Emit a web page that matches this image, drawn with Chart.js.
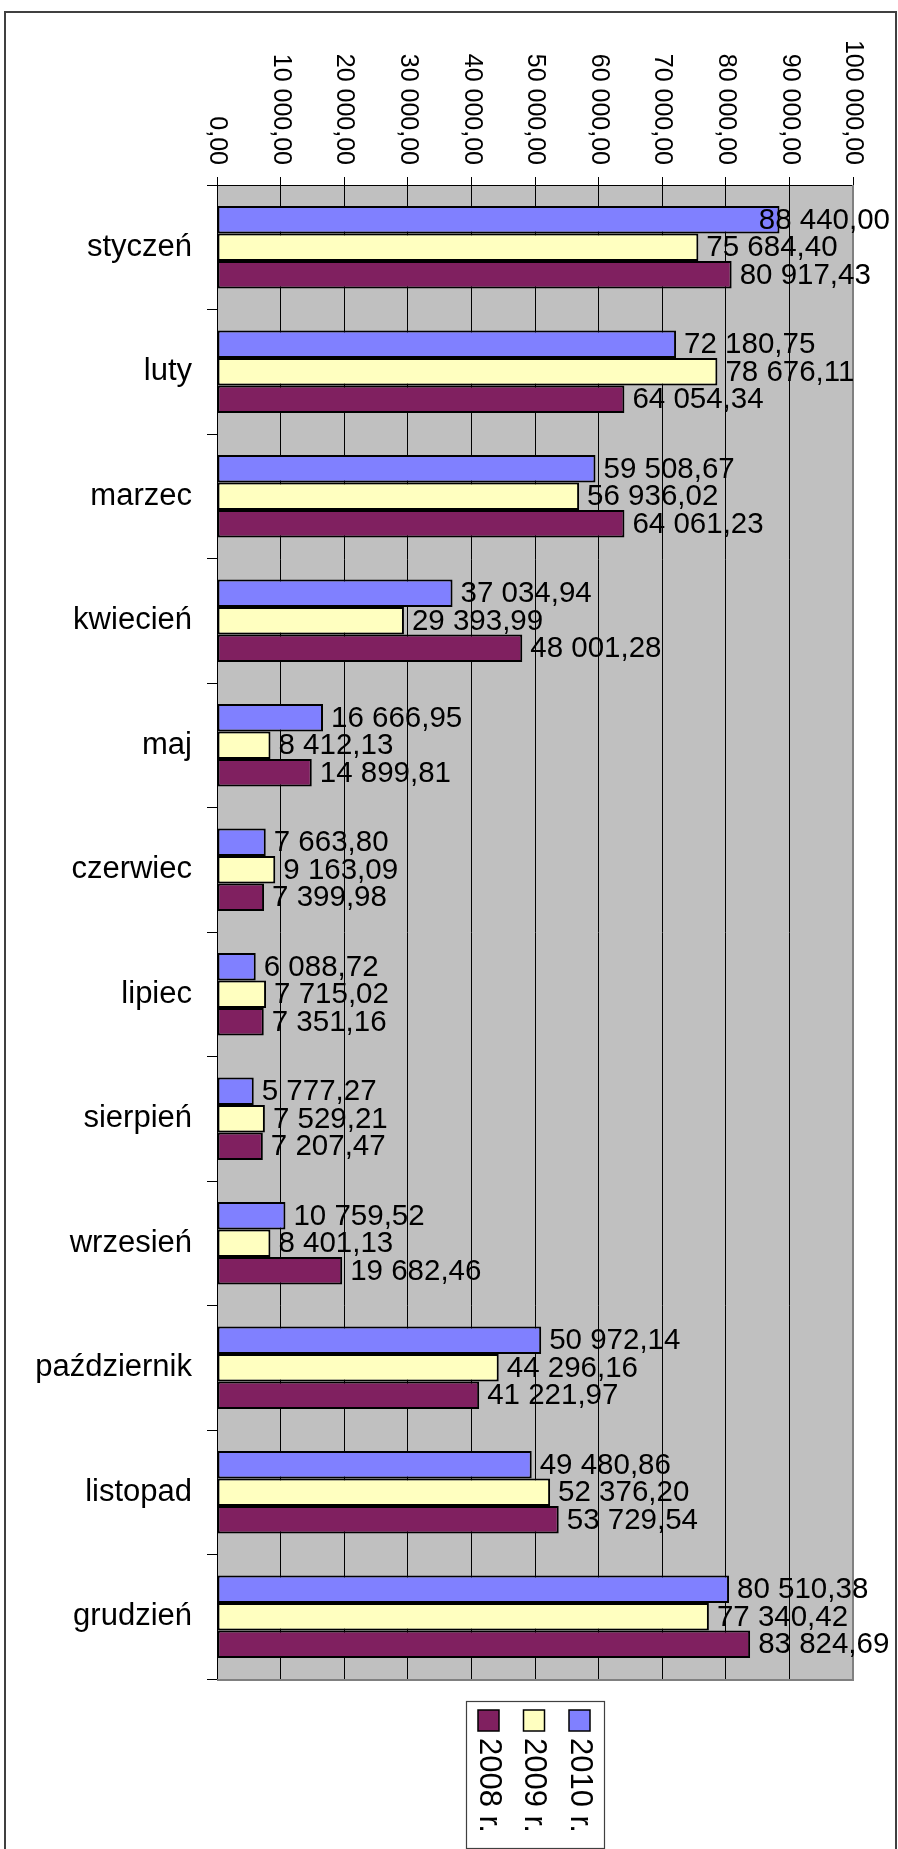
<!DOCTYPE html>
<html>
<head>
<meta charset="utf-8">
<style>
  html, body { margin: 0; padding: 0; background: #fff; }
  canvas { display: block; }
</style>
<script src="https://cdn.jsdelivr.net/npm/chart.js@4/dist/chart.umd.min.js"></script>
</head>
<body>
<canvas id="c" width="898" height="1849"></canvas>
<script>
const categories = ['styczeń','luty','marzec','kwiecień','maj','czerwiec','lipiec','sierpień','wrzesień','październik','listopad','grudzień'];
const seriesLabels = ['2010 r.', '2009 r.', '2008 r.'];
const values2010 = [88440.00, 72180.75, 59508.67, 37034.94, 16666.95, 7663.80, 6088.72, 5777.27, 10759.52, 50972.14, 49480.86, 80510.38];
const values2009 = [75684.40, 78676.11, 56936.02, 29393.99, 8412.13, 9163.09, 7715.02, 7529.21, 8401.13, 44296.16, 52376.20, 77340.42];
const values2008 = [80917.43, 64054.34, 64061.23, 48001.28, 14899.81, 7399.98, 7351.16, 7207.47, 19682.46, 41221.97, 53729.54, 83824.69];
const axisMin = 0, axisMax = 100000, axisStep = 10000;
const colors = ['#8080FF', '#FFFFC0', '#802060'];

const FONT = '"Liberation Sans", Arial, sans-serif';

function fmt(v) {
  const s = v.toFixed(2);
  let [i, d] = s.split('.');
  i = i.replace(/\B(?=(\d{3})+(?!\d))/g, ' ');
  return i + ',' + d;
}

const framePlugin = {
  id: 'frame',
  beforeDraw(chart) {
    const ctx = chart.ctx, a = chart.chartArea;
    ctx.save();
    ctx.fillStyle = '#fff';
    ctx.fillRect(0, 0, chart.width, chart.height);
    ctx.strokeStyle = '#404040';
    ctx.lineWidth = 2;
    ctx.strokeRect(5, 12, 891, 1900);
    ctx.fillStyle = '#C0C0C0';
    ctx.fillRect(a.left, a.top, a.right - a.left, a.bottom - a.top);
    ctx.restore();
  },
  beforeDatasetsDraw(chart) {
    const ctx = chart.ctx, a = chart.chartArea;
    ctx.save();
    ctx.strokeStyle = '#808080';
    ctx.lineWidth = 2;
    ctx.beginPath();
    ctx.moveTo(a.right, a.top);
    ctx.lineTo(a.right, a.bottom + 1);
    ctx.lineTo(a.left, a.bottom + 1);
    ctx.stroke();
    ctx.restore();
  },
  afterDatasetsDraw(chart) {
    const ctx = chart.ctx;
    ctx.save();
    // data labels
    ctx.font = '29.5px ' + FONT;
    ctx.fillStyle = '#000';
    ctx.textAlign = 'left';
    ctx.textBaseline = 'middle';
    chart.data.datasets.forEach((ds, di) => {
      const meta = chart.getDatasetMeta(di);
      meta.data.forEach((el, i) => {
        const t = fmt(ds.data[i]);
        const w = ctx.measureText(t).width;
        const x = Math.min(el.x + 8, 890 - w);
        ctx.fillText(t, x, el.y + 1);
      });
    });
    // rotated x tick labels
    const xs = chart.scales.x;
    ctx.font = '25px ' + FONT;
    ctx.textAlign = 'right';
    ctx.textBaseline = 'middle';
    xs.ticks.forEach((tk, i) => {
      const px = xs.getPixelForTick(i);
      ctx.save();
      ctx.translate(px, 165);
      ctx.rotate(Math.PI / 2);
      ctx.fillText(fmt(tk.value), 0, 0);
      ctx.restore();
    });
    // legend (rotated)
    const lx = 466, ly = 1701, lw = 138, lh = 147;
    ctx.strokeStyle = '#404040';
    ctx.lineWidth = 1.2;
    ctx.strokeRect(lx + 0.5, ly + 0.5, lw, lh);
    const order = [2, 1, 0];
    ctx.font = '31px ' + FONT;
    ctx.textAlign = 'left';
    ctx.textBaseline = 'middle';
    order.forEach((di, k) => {
      const ds = chart.data.datasets[di];
      const cx = 488.5 + k * 45.5;
      ctx.fillStyle = ds.backgroundColor;
      ctx.fillRect(cx - 10.5, 1710, 21, 21);
      ctx.strokeStyle = '#000';
      ctx.lineWidth = 1.5;
      ctx.strokeRect(cx - 10.5, 1710, 21, 21);
      ctx.fillStyle = '#000';
      ctx.save();
      ctx.translate(cx, 1738);
      ctx.rotate(Math.PI / 2);
      ctx.fillText(ds.label, 0, 0);
      ctx.restore();
    });
    ctx.restore();
  }
};

const allValues = [values2010, values2009, values2008];

new Chart(document.getElementById('c'), {
  type: 'bar',
  data: {
    labels: categories,
    datasets: allValues.map((vals, i) => ({
      label: seriesLabels[i],
      data: vals,
      backgroundColor: colors[i],
      borderColor: '#000',
      borderWidth: 2,
      borderSkipped: false,
      categoryPercentage: 0.661,
      barPercentage: 1.0
    }))
  },
  options: {
    indexAxis: 'y',
    responsive: false,
    animation: false,
    devicePixelRatio: 1,
    layout: { padding: { left: 0, top: 0, right: 45, bottom: 170 } },
    plugins: { legend: { display: false }, tooltip: { enabled: false } },
    scales: {
      x: {
        position: 'top',
        min: axisMin,
        max: axisMax,
        ticks: { stepSize: axisStep, display: false },
        grid: { color: '#000', lineWidth: 1, tickLength: 8, drawTicks: true },
        border: { color: '#000', width: 1 },
        afterFit(s) { s.height = 185; }
      },
      y: {
        position: 'left',
        offset: true,
        ticks: { color: '#000', font: { family: FONT, size: 31 }, padding: 15 },
        grid: { drawOnChartArea: false, drawTicks: true, tickLength: 10, color: '#000', offset: true },
        border: { color: '#000', width: 1 },
        afterFit(s) { s.width = 217; }
      }
    }
  },
  plugins: [framePlugin]
});
</script>
</body>
</html>
